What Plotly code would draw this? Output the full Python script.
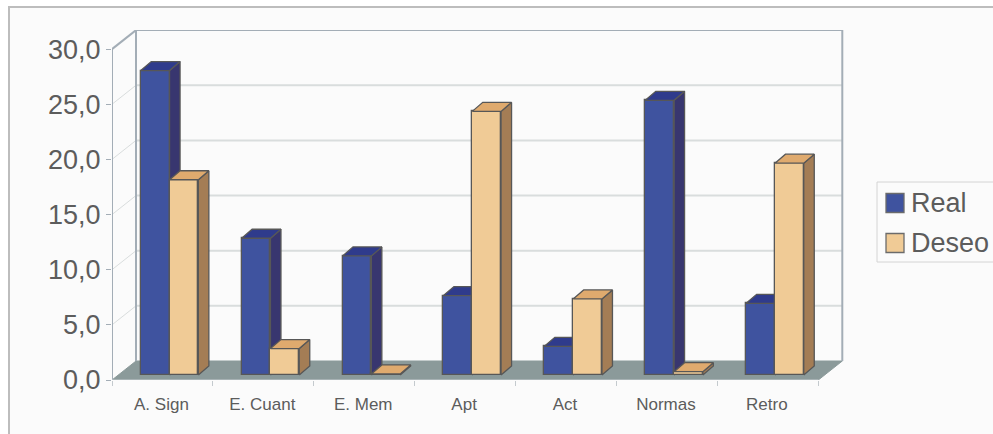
import plotly.graph_objects as go

# Survey results per category
categories = ["A. Sign", "E. Cuant", "E. Mem", "Apt", "Act", "Normas", "Retro"]
real_values = [27.6, 12.4, 10.8, 7.2, 2.6, 24.9, 6.5]
deseo_values = [17.7, 2.4, 0.1, 23.9, 6.9, 0.3, 19.2]
y_ticks = [0, 5, 10, 15, 20, 25, 30]

W, H = 993, 434

# Pixel frame of the plotting region
FRONT_LEFT, BACK_RIGHT = 112, 844
ZERO_Y, TOP_Y = 380, 30
PX_PER_CAT = 100.9
PX_PER_UNIT = 11.03
X_MAX = (BACK_RIGHT - FRONT_LEFT) / PX_PER_CAT
Y_MAX = (ZERO_Y - TOP_Y) / PX_PER_UNIT

# Pseudo-3D offsets, in axis units
WALL_DX, WALL_DY = 24 / PX_PER_CAT, 19 / PX_PER_UNIT
BAR_DX, BAR_DY = 10.5 / PX_PER_CAT, 9 / PX_PER_UNIT
BAR_BASE = 5 / PX_PER_UNIT
BAR_W = 28.8 / PX_PER_CAT
REAL_START = 0.285
DESEO_START = REAL_START + BAR_W

EDGE = "#575757"
FRAME = "#A3ADB6"
GRID = "#D9DDDD"
TEXT = "#5C5C5C"
REAL = dict(front="#3F539F", side="#38366F", top="#2F3B8C")
DESEO = dict(front="#F0CB96", side="#A47D55", top="#DFAA6E")


def line_shape(x0, y0, x1, y1, color, width=2):
    return dict(type="line", xref="x", yref="y", x0=x0, y0=y0, x1=x1, y1=y1,
                line=dict(color=color, width=width), layer="below")


def face(xs, ys, color, xaxis, yaxis):
    return go.Scatter(x=xs + xs[:1], y=ys + ys[:1], xaxis=xaxis, yaxis=yaxis,
                      mode="lines", fill="toself", fillcolor=color,
                      line=dict(color=EDGE, width=1.3), hoverinfo="skip",
                      showlegend=False, cliponaxis=False)


def add_series(fig, name, values, start, palette, xaxis, yaxis):
    fig.add_trace(go.Bar(
        x=list(range(len(values))), y=values, base=BAR_BASE, offset=start, width=BAR_W,
        name=name, xaxis=xaxis, yaxis=yaxis, showlegend=False,
        marker=dict(color=palette["front"], line=dict(color=EDGE, width=1.3)),
    ))
    for i, v in enumerate(values):
        left = i + start
        right = left + BAR_W
        bottom = BAR_BASE
        top = BAR_BASE + v
        fig.add_trace(face(
            [right, right + BAR_DX, right + BAR_DX, right],
            [bottom, bottom + BAR_DY, top + BAR_DY, top],
            palette["side"], xaxis, yaxis))
        fig.add_trace(face(
            [left, right, right + BAR_DX, left + BAR_DX],
            [top, top, top + BAR_DY, top + BAR_DY],
            palette["top"], xaxis, yaxis))


fig = go.Figure()
add_series(fig, "Real", real_values, REAL_START, REAL, "x", "y")
# The second series sits on an overlay so its bars cover the first series' side faces
add_series(fig, "Deseo", deseo_values, DESEO_START, DESEO, "x2", "y2")

n = len(categories)
shapes = [
    # Chart background and its border
    dict(type="rect", xref="paper", yref="paper", x0=9 / W, x1=1.02, y0=-0.02, y1=1 - 7 / H,
         fillcolor="#FBFBFB", line=dict(color="#BDBDBD", width=2), layer="below"),
    # Floor
    dict(type="path", xref="x", yref="y", layer="below", fillcolor="#8B9A9A",
         line=dict(color="#8B9A9A", width=1),
         path=f"M 0 0 L {WALL_DX} {WALL_DY} L {n + WALL_DX} {WALL_DY} L {n} 0 Z"),
]
# Gridlines on the back and side walls
for t in y_ticks[1:-1]:
    shapes.append(line_shape(WALL_DX, t + WALL_DY, n + WALL_DX, t + WALL_DY, GRID))
    shapes.append(line_shape(0, t, WALL_DX, t + WALL_DY, GRID, 1))
top_val = y_ticks[-1]
shapes += [
    line_shape(WALL_DX, top_val + WALL_DY, n + WALL_DX, top_val + WALL_DY, FRAME),
    line_shape(0, top_val, WALL_DX, top_val + WALL_DY, FRAME),
    line_shape(WALL_DX, WALL_DY, WALL_DX, top_val + WALL_DY, FRAME),
    line_shape(n + WALL_DX, WALL_DY, n + WALL_DX, top_val + WALL_DY, FRAME),
    line_shape(0, 0, 0, top_val, FRAME),
    line_shape(0, 0, n, 0, "#C4CACE", 1.2),
]

# Legend box and swatches
def px_x(v):
    return v / W


def px_y(v):
    return 1 - v / H


shapes.append(dict(type="rect", xref="paper", yref="paper", x0=px_x(877), x1=px_x(996),
                   y0=px_y(262), y1=px_y(182), fillcolor="#FBFBFB",
                   line=dict(color="#D4D4D4", width=1)))
legend_rows = [("Real", REAL["front"], 203), ("Deseo", DESEO["front"], 243)]
annotations = []
for label, color, cy in legend_rows:
    shapes.append(dict(type="rect", xref="paper", yref="paper", x0=px_x(886), x1=px_x(904),
                       y0=px_y(cy + 9.5), y1=px_y(cy - 9.5), fillcolor=color,
                       line=dict(color="#6B6B6B", width=1.3)))
    annotations.append(dict(xref="paper", yref="paper", x=px_x(909), y=px_y(cy), text=label,
                            showarrow=False, xanchor="left", yanchor="middle",
                            font=dict(family="Liberation Sans", size=27, color=TEXT)))

x_dom = [FRONT_LEFT / W, BACK_RIGHT / W]
y_dom = [1 - ZERO_Y / H, 1 - TOP_Y / H]

fig.update_layout(
    width=W, height=H, margin=dict(l=0, r=0, t=0, b=0, pad=0, autoexpand=False),
    paper_bgcolor="#FFFFFF", plot_bgcolor="rgba(0,0,0,0)",
    separators=",.", showlegend=False, bargap=0,
    shapes=shapes, annotations=annotations,
    xaxis=dict(
        domain=x_dom, range=[0, X_MAX], showgrid=False, zeroline=False, showline=False,
        tickmode="array", tickvals=[i + 0.49 for i in range(n)], ticktext=categories,
        ticks="", ticklabelstandoff=12,
        tickfont=dict(family="Liberation Sans", size=17, color=TEXT),
        minor=dict(tickmode="array", tickvals=list(range(n + 1)), ticks="outside",
                   ticklen=5, tickcolor="#C4CACE", tickwidth=1, showgrid=False),
    ),
    yaxis=dict(
        domain=y_dom, range=[0, Y_MAX], showgrid=False, zeroline=False, showline=False,
        tickmode="array", tickvals=y_ticks, tickformat=".1f",
        ticks="outside", ticklen=5, tickcolor=FRAME, tickwidth=1,
        tickfont=dict(family="Liberation Sans", size=27, color=TEXT),
    ),
    xaxis2=dict(domain=x_dom, range=[0, X_MAX], overlaying="x", visible=False),
    yaxis2=dict(domain=y_dom, range=[0, Y_MAX], overlaying="y", visible=False),
)

fig.write_html("out.html")
